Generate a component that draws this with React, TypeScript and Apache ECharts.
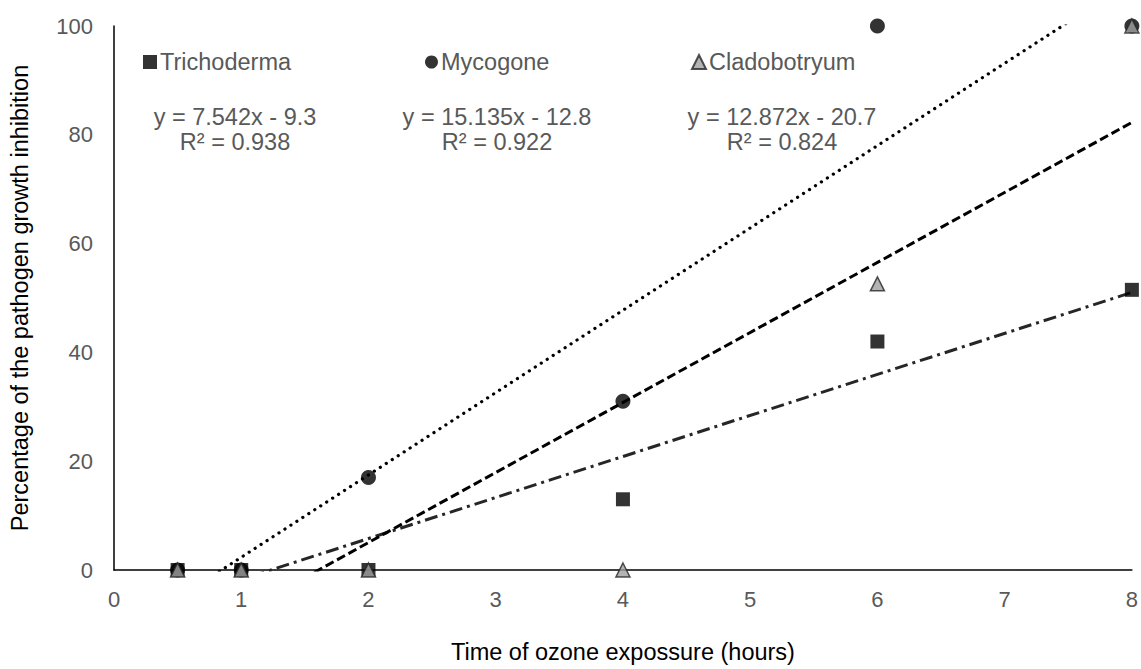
import React, { useEffect, useRef } from "react";
import * as echarts from "echarts";

const xValues = [0.5, 1, 2, 4, 6, 8];
const trichoderma = [0, 0, 0, 13, 42, 51.5];
const mycogone = [0, 0, 17, 31, 100, 100];
const cladobotryum = [0, 0, 0, 0, 52.6, 100];
const seriesNames = ["Trichoderma", "Mycogone", "Cladobotryum"];
const slopes = [7.542, 15.135, 12.872];
const intercepts = [-9.3, -12.8, -20.7];
const rSquared = [0.938, 0.922, 0.824];
const trendRange = [0.5, 8];

const FONT = '"Liberation Sans", Arial, sans-serif';
const GRAY = "#595959";

function pairs(ys: number[]) {
  return xValues.map((x, i) => [x, ys[i]]);
}

function trend(i: number) {
  return trendRange.map((x) => [x, slopes[i] * x + intercepts[i]]);
}

function eqText(i: number) {
  const b = intercepts[i];
  const sign = b < 0 ? "-" : "+";
  return `y = ${slopes[i]}x ${sign} ${Math.abs(b)}\nR² = ${rSquared[i]}`;
}

export default function App() {
  const ref = useRef<HTMLDivElement>(null);
  useEffect(() => {
    if (!ref.current) return;
    const chart = echarts.init(ref.current, null, { renderer: "svg" });
    const legendLefts = [143, 425, 691];
    const legendIconW = [14, 13, 14];
    const eqCenters = [235, 497, 782];
    chart.setOption({
      animation: false,
      backgroundColor: "#fff",
      textStyle: { fontFamily: FONT },
      grid: { left: 114, right: 5, top: 26, bottom: 97, containLabel: false },
      legend: seriesNames.map((n, i) => ({
        data: [n],
        left: legendLefts[i],
        top: 50,
        itemWidth: legendIconW[i],
        itemHeight: 14,
        padding: 0,
        selectedMode: false,
        textStyle: { color: GRAY, fontSize: 23.5, fontFamily: FONT, padding: [0, 0, 0, -2] },
      })),
      graphic: seriesNames.map((_, i) => ({
        type: "text",
        x: eqCenters[i],
        y: 129,
        style: {
          text: eqText(i),
          textAlign: "center",
          textVerticalAlign: "middle",
          fill: GRAY,
          fontSize: 23.5,
          fontFamily: FONT,
          lineHeight: 25,
        },
      })),
      xAxis: {
        type: "value",
        min: 0,
        max: 8,
        interval: 1,
        name: "Time of ozone expossure (hours)",
        nameLocation: "middle",
        nameGap: 70,
        nameTextStyle: { color: "#000", fontSize: 23.5, fontFamily: FONT },
        axisLine: { show: true, lineStyle: { color: "#000", width: 1.5 } },
        axisTick: { show: false },
        splitLine: { show: false },
        axisLabel: { color: GRAY, fontSize: 22, fontFamily: FONT, margin: 18 },
      },
      yAxis: {
        type: "value",
        min: 0,
        max: 100,
        interval: 20,
        name: "Percentage of the pathogen growth inhibition",
        nameLocation: "middle",
        nameGap: 82,
        nameTextStyle: { color: "#000", fontSize: 23.5, fontFamily: FONT },
        axisLine: { show: true, lineStyle: { color: "#000", width: 1.5 } },
        axisTick: { show: false },
        splitLine: { show: false },
        axisLabel: { color: GRAY, fontSize: 22, fontFamily: FONT, margin: 21 },
      },
      series: [
        {
          name: "Trichoderma-trend",
          type: "line",
          data: trend(0),
          symbol: "none",
          z: 1,
          lineStyle: { color: "#262626", width: 3, type: [13, 5, 3, 5] },
        },
        {
          name: "Mycogone-trend",
          type: "line",
          data: trend(1),
          symbol: "none",
          z: 1,
          lineStyle: { color: "#000", width: 3.2, type: [0.1, 7], cap: "round" },
        },
        {
          name: "Cladobotryum-trend",
          type: "line",
          data: trend(2),
          symbol: "none",
          z: 1,
          lineStyle: { color: "#000", width: 3, type: [9, 4] },
        },
        {
          name: "Mycogone",
          type: "scatter",
          data: pairs(mycogone),
          symbol: "circle",
          symbolSize: 15,
          clip: false,
          z: 2,
          itemStyle: { color: "#000" },
        },
        {
          name: "Trichoderma",
          type: "scatter",
          data: pairs(trichoderma),
          symbol: "rect",
          symbolSize: 14,
          clip: false,
          z: 3,
          itemStyle: { color: "#000" },
        },
        {
          name: "Cladobotryum",
          type: "scatter",
          data: pairs(cladobotryum),
          symbol: "triangle",
          symbolSize: 14,
          clip: false,
          z: 4,
          itemStyle: { color: "#a0a0a0", borderColor: "#262626", borderWidth: 1.5 },
        },
      ],
    });
    return () => chart.dispose();
  }, []);
  return (
    <div
      ref={ref}
      style={{ position: "absolute", left: 0, top: 0, width: 1141, height: 669 }}
    />
  );
}
